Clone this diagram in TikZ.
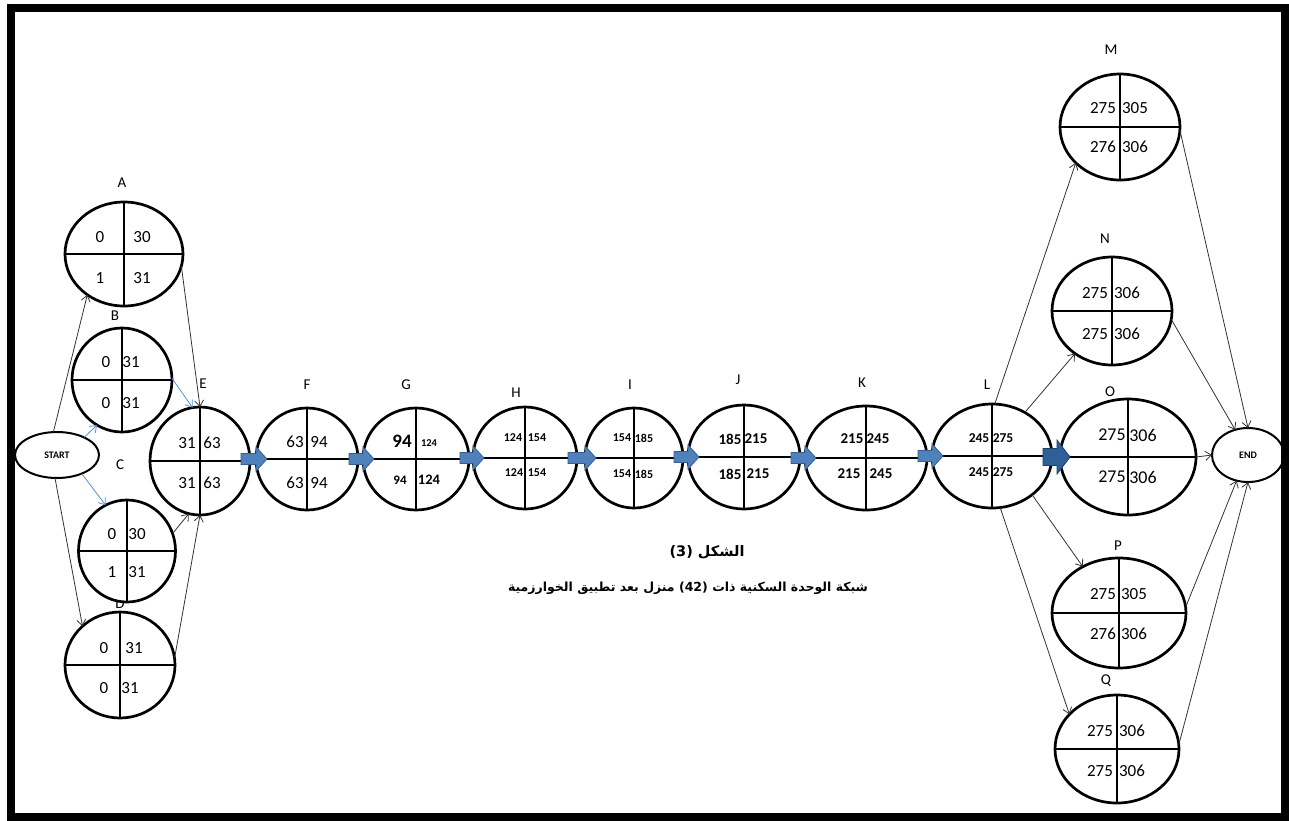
\documentclass[tikz,border=0pt]{standalone}
\usepackage{fontspec}
\setmainfont{Carlito}
\newfontfamily\arabicfont[Script=Arabic]{DejaVu Sans}
\TeXXeTstate=1
\usetikzlibrary{shapes.geometric,arrows.meta,calc}
\definecolor{barfill}{HTML}{4F81BD}
\definecolor{barline}{HTML}{385D8A}
\definecolor{bigfill}{HTML}{2F5F99}
\definecolor{bigline}{HTML}{1F3F66}
\definecolor{thinblue}{HTML}{5B8FD0}
\newcommand\nm[5][]{\node[num,#1] (#2) at (#3,#4) {#5};}
\newcommand\evn[5]{\node[ev,minimum width=#4pt,minimum height=#5pt] (#1) at (#2,#3) {};
  \draw[crossln] (#1.north)--(#1.south) (#1.west)--(#1.east);}
\newcommand\barrow[3][barw]{%
  \path[#1] let \p1=($(#2.east)+(-9,0)$), \p2=($(#3.west)+(11,0)$) in
   (\x1,\y2+5.5pt) -- (\x2-11pt,\y2+5.5pt) -- (\x2-11pt,\y2+12pt) -- (\x2,\y2)
   -- (\x2-11pt,\y2-12pt) -- (\x2-11pt,\y2-5.5pt) -- (\x1,\y2-5.5pt) -- cycle;}
\newcommand\bigbarrow[2]{%
  \path[bigbar] let \p1=($(#1.east)+(-9,0)$), \p2=($(#2.west)+(10,0)$) in
   (\x1,\y2+8.5pt) -- (\x2-13pt,\y2+8.5pt) -- (\x2-13pt,\y2+17pt) -- (\x2,\y2)
   -- (\x2-13pt,\y2-17pt) -- (\x2-13pt,\y2-8.5pt) -- (\x1,\y2-8.5pt) -- cycle;}
\begin{document}
\begin{tikzpicture}[x=1pt,y=-1pt,
 ev/.style={ellipse,draw=black,line width=2.7pt,fill=white,inner sep=0pt,outer sep=0pt},
 crossln/.style={line width=2.5pt},
 num/.style={inner sep=0pt,font=\fontsize{17}{17}\selectfont},
 hb/.style={font=\fontsize{12}{12}\selectfont\bfseries},
 jb/.style={font=\fontsize{15}{15}\selectfont\bfseries},
 lb/.style={font=\fontsize{13.5}{13.5}\selectfont\bfseries},
 lab/.style={inner sep=0pt,font=\fontsize{15}{15}\selectfont},
 conn/.style={line width=0.8pt,draw=black!80,-{Straight Barb[length=6pt,width=9pt]}},
 bconn/.style={conn,draw=thinblue},
 barw/.style={fill=barfill,draw=barline,line width=0.8pt},
 bigbar/.style={fill=bigfill,draw=bigline,line width=0.8pt},
 term/.style={ellipse,draw=black,line width=2pt,fill=white,inner sep=0pt,outer sep=0pt,font=\fontsize{10}{10}\selectfont\bfseries},
 captext/.style={inner sep=0pt,font=\arabicfont\bfseries\fontsize{14.5}{14.5}\selectfont},
 captextb/.style={inner sep=0pt,font=\arabicfont\bfseries\fontsize{12.5}{12.5}\selectfont}
]
\useasboundingbox (0,0) rectangle (1289,820);
% labels
\node[lab] (lA) at (122,183) {A};
\node[lab] (lB) at (115,316) {B};
\node[lab] (lC) at (120,465) {C};
\node[lab] (lD) at (120,604) {D};
\node[lab] (lE) at (203,384) {E};
\node[lab] (lF) at (307,385) {F};
\node[lab] (lG) at (406,385) {G};
\node[lab] (lH) at (516,393) {H};
\node[lab] (lI) at (630,385) {I};
\node[lab] (lJ) at (738,380) {J};
\node[lab] (lK) at (862,383) {K};
\node[lab] (lL) at (987,385) {L};
\node[lab] (lO) at (1110,392) {O};
\node[lab] (lM) at (1111,50) {M};
\node[lab] (lN) at (1105,239) {N};
\node[lab] (lP) at (1118,546) {P};
\node[lab] (lQ) at (1106,681) {Q};
% nodes
\node[term,minimum width=84pt,minimum height=46pt] (START) at (57,455) {START};
\node[term,minimum width=72pt,minimum height=54pt] (END) at (1248,455) {END};
\evn{A}{124}{254}{118}{104}
\evn{B}{122}{380}{100}{104}
\evn{D}{120}{665}{110}{106}
\evn{C}{127}{551}{97}{102}
\evn{E}{200}{461}{100}{108}
\evn{F}{307}{459}{102}{102}
\evn{G}{416}{459}{106}{102}
\evn{H}{525}{458}{104}{102}
\evn{I}{634}{458}{98}{100}
\evn{J}{744}{457}{112}{104}
\evn{K}{866}{458}{122}{104}
\evn{L}{992}{456}{120}{104}
\evn{O}{1128}{457}{136}{116}
\evn{M}{1120}{127}{120}{106}
\evn{N}{1112}{311}{120}{108}
\evn{P}{1119}{613}{134}{110}
\evn{Q}{1117}{749}{124}{108}
% numbers
\nm{Atl}{100}{237}{0}\nm{Atr}{142}{237}{30}\nm{Abl}{100}{278}{1}\nm{Abr}{142}{278}{31}
\nm{Btl}{106}{362}{0}\nm{Btr}{131}{362}{31}\nm{Bbl}{106}{403}{0}\nm{Bbr}{131}{403}{31}
\nm{Ctl}{112}{534}{0}\nm{Ctr}{137}{534}{30}\nm{Cbl}{112}{572}{1}\nm{Cbr}{137}{572}{31}
\nm{Dtl}{104}{648}{0}\nm{Dtr}{134}{648}{31}\nm{Dbl}{104}{688}{0}\nm{Dbr}{130}{688}{31}
\nm{Etl}{187}{443}{31}\nm{Etr}{212}{443}{63}\nm{Ebl}{187}{483}{31}\nm{Ebr}{212}{483}{63}
\nm{Ftl}{295}{442}{63}\nm{Ftr}{319}{442}{94}\nm{Fbl}{295}{483}{63}\nm{Fbr}{319}{483}{94}
\nm[font=\fontsize{19}{19}\selectfont\bfseries]{Gtl}{402}{441}{94}
\nm[font=\fontsize{10.5}{10.5}\selectfont\bfseries]{Gtr}{429}{443}{124}
\nm[font=\fontsize{13}{13}\selectfont\bfseries]{Gbl}{400}{480}{94}
\nm[font=\fontsize{14.5}{14.5}\selectfont\bfseries]{Gbr}{429}{480}{124}
\nm[hb]{Htl}{513}{438}{124}\nm[hb]{Htr}{537}{438}{154}\nm[hb]{Hbl}{514}{473}{124}\nm[hb]{Hbr}{537}{473}{154}
\nm[hb]{Itl}{622}{438}{154}\nm[hb]{Itr}{644}{438}{185}\nm[hb]{Ibl}{622}{474}{154}\nm[hb]{Ibr}{644}{474}{185}
\nm[jb]{Jtl}{730}{439}{185}\nm[jb]{Jtr}{756}{439}{215}\nm[jb]{Jbl}{730}{474}{185}\nm[jb]{Jbr}{758}{474}{215}
\nm[jb]{Ktl}{852}{439}{215}\nm[jb]{Ktr}{878}{439}{245}\nm[jb]{Kbl}{849}{474}{215}\nm[jb]{Kbr}{881}{474}{245}
\nm[lb]{Ltl}{979}{438}{245}\nm[lb]{Ltr}{1003}{438}{275}\nm[lb]{Lbl}{979}{472}{245}\nm[lb]{Lbr}{1003}{472}{275}
\nm[font=\fontsize{18}{18}\selectfont]{Otl}{1112}{435}{275}\nm[font=\fontsize{18}{18}\selectfont]{Otr}{1143}{435}{306}
\nm[font=\fontsize{18}{18}\selectfont]{Obl}{1112}{477}{275}\nm[font=\fontsize{18}{18}\selectfont]{Obr}{1143}{477}{306}
\nm{Mtl}{1103}{108}{275}\nm{Mtr}{1135}{108}{305}\nm{Mbl}{1103}{147}{276}\nm{Mbr}{1135}{147}{306}
\nm{Ntl}{1095}{293}{275}\nm{Ntr}{1127}{293}{306}\nm{Nbl}{1095}{334}{275}\nm{Nbr}{1127}{334}{306}
\nm{Ptl}{1103}{594}{275}\nm{Ptr}{1134}{594}{305}\nm{Pbl}{1103}{634}{276}\nm{Pbr}{1134}{634}{306}
\nm{Qtl}{1100}{731}{275}\nm{Qtr}{1132}{731}{306}\nm{Qbl}{1100}{771}{275}\nm{Qbr}{1132}{771}{306}
% thin connectors
\draw[conn] (START.99) -- (A.228);
\draw[conn] (START.265) -- (D.134);
\draw[bconn] (START.33) -- (B.241);
\draw[bconn] (START.-37) -- (C.115);
\draw[bconn] (B.2) -- (E.98);
\draw[conn] (A.-12) -- (E.90);
\draw[conn] (C.21) -- (E.258);
\draw[conn] (D.7) -- (E.270);
\draw[conn] (L.87) -- (M.219);
\draw[conn] (L.53) -- (N.229);
\draw[conn] (L.-44) -- (P.128);
\draw[conn] (L.279) -- (Q.144);
\draw[conn] (O.east) -- (END.west);
\draw[conn] (M.-3) -- (END.90);
\draw[conn] (N.-8) -- (END.117);
\draw[conn] (P.5) -- (END.246);
\draw[conn] (Q.4) -- (END.270);
% block arrows
\barrow{E}{F}
\barrow{F}{G}
\barrow{G}{H}
\barrow{H}{I}
\barrow{I}{J}
\barrow{J}{K}
\barrow{K}{L}
\bigbarrow{L}{O}
% caption
\node[captext] (cap1) at (707,552) {\beginR الشكل (3)\endR};
\node[captextb] (cap2) at (688,588) {\beginR شبكة الوحدة السكنية ذات (42) منزل بعد تطبيق الخوارزمية\endR};
% frame
\draw[line width=8pt] (11,8) rectangle (1285,817);
\end{tikzpicture}
\end{document}
